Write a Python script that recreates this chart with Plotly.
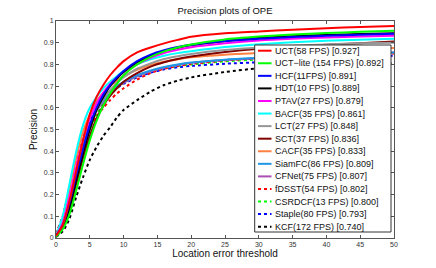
import plotly.graph_objects as go

# Location error thresholds (x)
thresholds = [0, 1, 2, 3, 4, 5, 6, 7, 8, 9, 10, 12, 14, 16, 18, 20, 25, 30, 35, 40, 45, 50]

# Precision values
uct      = [0.010, 0.06, 0.17, 0.31, 0.45, 0.57, 0.65, 0.705, 0.750, 0.785, 0.815, 0.855, 0.878, 0.897, 0.913, 0.927, 0.943, 0.952, 0.960, 0.967, 0.972, 0.977]
uct_lite = [0.005, 0.04, 0.11, 0.22, 0.34, 0.45, 0.54, 0.610, 0.665, 0.710, 0.750, 0.800, 0.835, 0.860, 0.878, 0.892, 0.915, 0.928, 0.938, 0.945, 0.950, 0.955]
hcf      = [0.010, 0.06, 0.16, 0.29, 0.41, 0.52, 0.60, 0.660, 0.705, 0.740, 0.770, 0.815, 0.845, 0.865, 0.880, 0.891, 0.908, 0.918, 0.926, 0.932, 0.937, 0.941]
hdt      = [0.010, 0.05, 0.14, 0.27, 0.39, 0.50, 0.59, 0.650, 0.700, 0.735, 0.765, 0.810, 0.840, 0.862, 0.877, 0.889, 0.908, 0.922, 0.930, 0.936, 0.940, 0.943]
ptav     = [0.010, 0.07, 0.19, 0.33, 0.45, 0.55, 0.62, 0.670, 0.710, 0.740, 0.765, 0.800, 0.830, 0.852, 0.867, 0.879, 0.897, 0.910, 0.918, 0.924, 0.928, 0.932]
bacf     = [0.010, 0.10, 0.25, 0.40, 0.52, 0.60, 0.65, 0.690, 0.720, 0.745, 0.770, 0.800, 0.823, 0.840, 0.852, 0.861, 0.880, 0.893, 0.902, 0.909, 0.914, 0.918]
lct      = [0.010, 0.06, 0.16, 0.29, 0.41, 0.51, 0.59, 0.640, 0.680, 0.715, 0.740, 0.780, 0.805, 0.825, 0.838, 0.848, 0.866, 0.878, 0.886, 0.892, 0.897, 0.900]
sct      = [0.005, 0.05, 0.13, 0.25, 0.37, 0.47, 0.55, 0.610, 0.655, 0.690, 0.720, 0.760, 0.790, 0.810, 0.825, 0.836, 0.857, 0.872, 0.882, 0.890, 0.898, 0.905]
cacf     = [0.010, 0.09, 0.23, 0.37, 0.49, 0.57, 0.63, 0.670, 0.700, 0.725, 0.745, 0.775, 0.797, 0.812, 0.824, 0.833, 0.845, 0.852, 0.858, 0.865, 0.871, 0.876]
siamfc   = [0.010, 0.07, 0.18, 0.31, 0.43, 0.52, 0.59, 0.635, 0.670, 0.700, 0.720, 0.750, 0.772, 0.788, 0.800, 0.809, 0.822, 0.830, 0.837, 0.843, 0.849, 0.855]
cfnet    = [0.010, 0.07, 0.18, 0.31, 0.43, 0.52, 0.585, 0.630, 0.665, 0.695, 0.715, 0.745, 0.768, 0.785, 0.797, 0.807, 0.820, 0.828, 0.835, 0.842, 0.849, 0.855]
fdsst    = [0.020, 0.10, 0.23, 0.36, 0.45, 0.51, 0.56, 0.600, 0.635, 0.665, 0.690, 0.730, 0.760, 0.780, 0.793, 0.802, 0.818, 0.828, 0.835, 0.841, 0.846, 0.850]
csrdcf   = [0.010, 0.06, 0.16, 0.28, 0.40, 0.50, 0.57, 0.620, 0.660, 0.690, 0.715, 0.745, 0.768, 0.783, 0.793, 0.800, 0.814, 0.823, 0.832, 0.840, 0.848, 0.855]
staple   = [0.020, 0.10, 0.23, 0.36, 0.46, 0.54, 0.59, 0.630, 0.660, 0.690, 0.710, 0.740, 0.762, 0.777, 0.787, 0.793, 0.803, 0.810, 0.818, 0.826, 0.833, 0.840]
kcf      = [0.005, 0.03, 0.09, 0.19, 0.28, 0.36, 0.42, 0.470, 0.510, 0.555, 0.590, 0.635, 0.675, 0.705, 0.725, 0.740, 0.765, 0.782, 0.792, 0.798, 0.802, 0.805]

labels = ["UCT(58 FPS) [0.927]", "UCT\u2212lite (154 FPS) [0.892]", "HCF(11FPS) [0.891]",
          "HDT(10 FPS) [0.889]", "PTAV(27 FPS) [0.879]", "BACF(35 FPS) [0.861]",
          "LCT(27 FPS) [0.848]", "SCT(37 FPS) [0.836]", "CACF(35 FPS) [0.833]",
          "SiamFC(86 FPS) [0.809]", "CFNet(75 FPS) [0.807]", "fDSST(54 FPS) [0.802]",
          "CSRDCF(13 FPS) [0.800]", "Staple(80 FPS) [0.793]", "KCF(172 FPS) [0.740]"]
series = [uct, uct_lite, hcf, hdt, ptav, bacf, lct, sct, cacf, siamfc, cfnet, fdsst, csrdcf, staple, kcf]
colors = ["#ff0000", "#00ff00", "#0000ff", "#000000", "#ff00ff", "#00ffff", "#969696",
          "#800000", "#ff8040", "#1e96e6", "#aa50b4", "#ff0000", "#00ff00", "#0000ff", "#000000"]
dashes = ["solid"] * 11 + ["dot"] * 4

fig = go.Figure()
# draw in reverse so the top-ranked curve is on top
for name, ys, c, d in reversed(list(zip(labels, series, colors, dashes))):
    fig.add_trace(go.Scatter(x=thresholds, y=ys, mode="lines", name=name,
                             line=dict(color=c, width=2, dash=d, shape="spline", smoothing=0.7),
                             showlegend=False, hoverinfo="skip"))

W, H = 436, 268
L, R, T, B = 56, 42, 21, 30
pw, ph = W - L - R, H - T - B

def px2x(px):
    return (px - L) / pw

def py2y(py):
    return (T + ph - py) / ph

shapes = [dict(type="rect", xref="paper", yref="paper",
               x0=px2x(254.7), x1=px2x(391), y0=py2y(232), y1=py2y(45),
               fillcolor="white", line=dict(color="#333333", width=1), layer="above")]
annotations = []
for i, (name, c, d) in enumerate(zip(labels, colors, dashes)):
    yy = py2y(50.7 + i * 12.57)
    shapes.append(dict(type="line", xref="paper", yref="paper",
                       x0=px2x(258), x1=px2x(271.5), y0=yy, y1=yy,
                       line=dict(color=c, width=2, dash=d), layer="above"))
    annotations.append(dict(xref="paper", yref="paper", x=px2x(273), y=yy,
                            xanchor="left", yanchor="middle", text=name, showarrow=False,
                            font=dict(family="Liberation Sans, Arial", size=9, color="#111111")))

axis_common = dict(showgrid=False, zeroline=False, showline=True, linecolor="#555555", linewidth=1,
                   mirror="ticks", ticks="inside", ticklen=3, tickcolor="#555555", automargin=False,
                   tickfont=dict(family="Liberation Sans, Arial", size=7, color="#333333"))

fig.update_layout(
    width=W, height=H,
    margin=dict(l=L, r=R, t=T, b=B, autoexpand=False),
    paper_bgcolor="white", plot_bgcolor="white",
    hovermode=False,
    title=dict(text="Precision plots of OPE", x=(L + pw / 2) / W, xanchor="center",
               y=1 - 11 / H, yanchor="middle",
               font=dict(family="Liberation Sans, Arial", size=9.5, color="#111111")),
    xaxis=dict(range=[0, 50], tickvals=list(range(0, 51, 5)),
               title=dict(text="Location error threshold", standoff=1,
                          font=dict(family="Liberation Sans, Arial", size=10, color="#111111")),
               **axis_common),
    yaxis=dict(range=[0, 1], tickvals=[i / 10 for i in range(11)],
               ticktext=["0"] + ["%.1f" % (i / 10) for i in range(1, 10)] + ["1"],
               title=dict(text="Precision", standoff=4,
                          font=dict(family="Liberation Sans, Arial", size=10, color="#111111")),
               **axis_common),
    shapes=shapes, annotations=annotations,
)

fig.write_html("out.html", config={"displayModeBar": False, "staticPlot": True},
               post_script="document.body.style.margin='0px';")
